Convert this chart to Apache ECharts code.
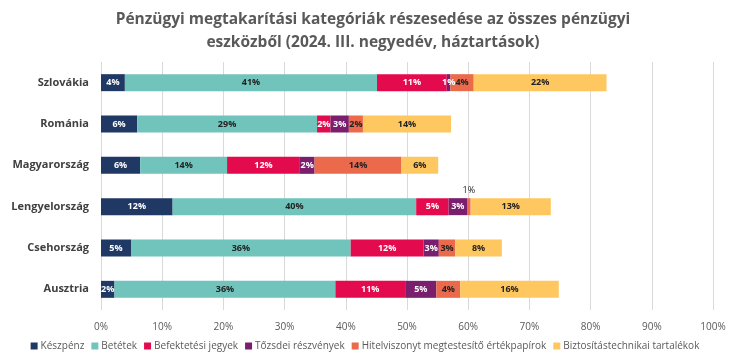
<!DOCTYPE html>
<html><head><meta charset="utf-8">
<script src="https://cdn.jsdelivr.net/npm/echarts@6/dist/echarts.min.js"></script>
<style>html,body{margin:0;padding:0;background:#fff}#c{width:730px;height:358px}</style>
</head><body><div id="c"></div>
<script>
var countries = ['Szlovákia','Románia','Magyarország','Lengyelország','Csehország','Ausztria'];
var seriesNames = ['Készpénz','Betétek','Befektetési jegyek','Tőzsdei részvények','Hitelviszonyt megtestesítő értékpapírok','Biztosítástechnikai tartalékok'];
var keszpenz   = [3.9, 5.9, 6.4, 11.7, 4.9, 2.2];
var betetek    = [41.2, 29.4, 14.2, 39.8, 35.9, 36.1];
var befektetesi= [11.4, 2.2, 11.9, 5.3, 11.9, 11.4];
var tozsdei    = [0.6, 3.0, 2.4, 3.0, 2.5, 5.1];
var hitel      = [3.8, 2.3, 14.2, 0.6, 2.7, 3.9];
var biztositas = [21.7, 14.4, 6.0, 13.1, 7.6, 16.1];
var xTicks = [0,10,20,30,40,50,60,70,80,90,100];

var colors = ['#203864','#70C4BC','#E40A4E','#7A1F6E','#EA6A4B','#FFC75F'];
var labelColors = ['#fff','#222','#fff','#fff','#222','#222'];
var allData = [keszpenz, betetek, befektetesi, tozsdei, hitel, biztositas];
var FONT = "'Liberation Sans Narrow','Open Sans',sans-serif";

var series = allData.map(function(arr, si){
  return {
    name: seriesNames[si], type:'bar', stack:'total', barWidth:17,
    itemStyle:{color:colors[si]},
    label:{show:true, position:'inside', color:labelColors[si], fontSize:9, fontWeight:'bold', fontFamily:FONT,
      formatter:function(p){return Math.round(p.value)+'%';}},
    data: arr.map(function(v, ci){
      if (si===4 && ci===3) {
        return {value:v, label:{position:'top', color:'#222', fontWeight:'normal', distance:3}};
      }
      return v;
    })
  };
});

var chart = echarts.init(document.getElementById('c'));
chart.setOption({
  animation:false,
  title:{text:'Pénzügyi megtakarítási kategóriák részesedése az összes pénzügyi\neszközből (2024. III. negyedév, háztartások)',
    left:368, textAlign:'center', top:3,
    textStyle:{fontSize:15.5, fontWeight:'bold', color:'#595959', fontFamily:"'Open Sans',sans-serif", lineHeight:23}},
  legend:{bottom:2, left:'center', itemWidth:7, itemHeight:7, itemGap:7, icon:'rect',
    textStyle:{fontSize:10, color:'#595959', fontFamily:FONT, padding:[0,0,0,-2]}},
  grid:{left:101, right:17, top:62, bottom:48},
  xAxis:{type:'value', min:0, max:100, interval:10,
    axisLabel:{formatter:'{value}%', color:'#595959', fontSize:10, fontFamily:FONT, margin:12},
    splitLine:{lineStyle:{color:'#d9d9d9'}}, axisLine:{show:false}, axisTick:{show:false}},
  yAxis:{type:'category', data:countries, inverse:true,
    axisLabel:{color:'#404040', fontSize:11, fontWeight:'bold', fontFamily:"'Open Sans',sans-serif", margin:12},
    axisLine:{show:false}, axisTick:{show:false}},
  series:series
});
</script></body></html>
